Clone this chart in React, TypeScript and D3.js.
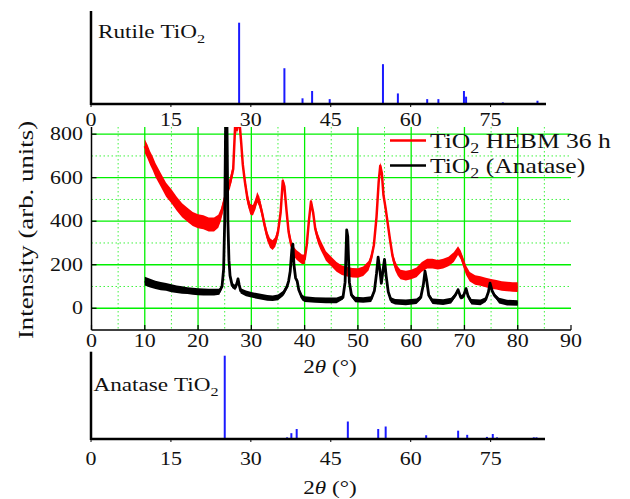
import React from "react";
import * as d3 from "d3";

const W = 630;
const H = 499;
const FONT = "'Liberation Serif', 'Times New Roman', serif";
const SX = 1.22;

// Main panel: [2θ, intensity, noise half-width]
const redSeries: [number, number, number][] = [
  [10, 745, 32], [10.5, 720, 32], [11, 690, 32], [11.5, 665, 32], [12, 635, 32],
  [13, 590, 32], [14, 545, 32], [15, 515, 32], [16, 480, 32], [17, 450, 32],
  [18, 430, 32], [19, 410, 32], [20, 400, 32], [21, 395, 32], [22, 385, 32],
  [23, 385, 32], [23.8, 400, 30], [24.3, 430, 28], [24.8, 480, 26], [25.3, 530, 25],
  [26, 575, 25], [26.6, 640, 24], [27.0, 860, 20], [27.3, 820, 20], [27.7, 880, 20],
  [28.1, 760, 20], [28.4, 660, 22], [28.8, 580, 24], [29.3, 500, 24], [29.8, 455, 24],
  [30.3, 450, 24], [30.8, 480, 24], [31.1, 510, 24], [31.5, 490, 24], [32, 440, 22],
  [32.5, 380, 22], [33, 330, 22], [33.5, 300, 22], [34, 290, 22], [34.5, 305, 22],
  [35, 350, 22], [35.5, 440, 18], [35.9, 585, 16], [36.2, 560, 16], [36.6, 450, 18],
  [37, 350, 22], [37.5, 290, 22], [38, 260, 22], [38.5, 245, 22], [39, 235, 22],
  [39.5, 225, 22], [40, 225, 22], [40.4, 290, 18], [40.8, 400, 16], [41.2, 490, 16],
  [41.6, 440, 16], [42, 365, 18], [42.5, 320, 22], [43, 290, 22], [43.5, 265, 22],
  [44, 240, 22], [45, 215, 22], [46, 190, 22], [47, 175, 22], [48, 168, 22],
  [49, 163, 22], [50, 162, 22], [51, 170, 22], [52, 195, 22], [52.5, 230, 20],
  [53, 290, 18], [53.5, 420, 16], [53.9, 580, 16], [54.2, 655, 16], [54.5, 620, 16],
  [54.8, 520, 16], [55.2, 460, 16], [55.6, 390, 16], [56, 320, 18], [56.5, 240, 20],
  [57, 195, 22], [57.5, 170, 22], [58, 155, 22], [59, 150, 22], [60, 155, 22],
  [61, 165, 22], [62, 190, 22], [63, 205, 22], [64, 205, 22], [65, 200, 22],
  [66, 205, 22], [67, 215, 22], [68, 235, 22], [68.8, 265, 20], [69.3, 245, 20],
  [69.8, 210, 22], [70.3, 175, 22], [71, 145, 22], [72, 130, 22], [73, 125, 22],
  [74, 118, 22], [75, 112, 22], [76, 108, 22], [77, 102, 22], [78, 100, 22],
  [79, 98, 22], [80, 97, 22],
];

const blackSeries: [number, number, number][] = [
  [10, 125, 20], [10.5, 120, 20], [11, 115, 20], [12, 107, 19], [13, 102, 19],
  [14, 98, 18], [15, 92, 18], [16, 87, 17], [17, 84, 17], [18, 81, 16],
  [19, 78, 16], [20, 76, 16], [21, 75, 16], [22, 74, 16], [23, 74, 16],
  [24, 76, 14], [24.5, 100, 9], [24.8, 180, 5], [25.0, 400, 3], [25.15, 800, 3],
  [25.3, 1100, 3], [25.45, 800, 3], [25.6, 400, 3], [25.8, 220, 5], [26.0, 150, 8],
  [26.4, 105, 12], [27.0, 95, 12], [27.3, 115, 9], [27.5, 135, 9], [27.7, 110, 9],
  [28.0, 80, 12], [29, 68, 13], [30, 62, 13], [31, 57, 13], [32, 52, 13],
  [33, 48, 13], [34, 46, 13], [35, 50, 13], [36, 68, 12], [36.7, 100, 11],
  [37.0, 125, 9], [37.3, 170, 6], [37.6, 270, 4], [37.8, 295, 4], [38.0, 200, 6],
  [38.3, 140, 8], [38.6, 125, 9], [38.9, 85, 10], [39.5, 50, 13], [40, 42, 13],
  [42, 38, 13], [44, 36, 13], [46, 36, 13], [47.2, 50, 10], [47.6, 120, 6],
  [47.9, 360, 3], [48.1, 330, 3], [48.4, 120, 6], [48.8, 60, 10], [49.5, 40, 13],
  [51, 38, 13], [52.5, 42, 13], [53.1, 80, 9], [53.5, 160, 6], [53.8, 235, 4],
  [54.1, 180, 6], [54.4, 115, 7], [54.7, 170, 6], [55.0, 225, 4], [55.3, 150, 6],
  [55.7, 75, 9], [56.2, 38, 13], [57, 30, 13], [59, 27, 13], [61, 32, 13],
  [61.8, 50, 10], [62.3, 110, 6], [62.6, 170, 4], [62.9, 130, 6], [63.3, 60, 10],
  [64, 32, 13], [66, 28, 13], [67.5, 35, 13], [68.3, 60, 10], [68.8, 85, 8],
  [69.3, 50, 10], [69.8, 55, 10], [70.3, 90, 8], [70.7, 55, 10], [71.3, 30, 13],
  [73, 27, 13], [74, 40, 11], [74.5, 75, 8], [74.8, 115, 6], [75.2, 80, 8],
  [75.6, 60, 10], [76, 50, 10], [76.5, 35, 13], [78, 26, 13], [80, 24, 13],
];

// Reference patterns: [2θ, relative intensity %]
const rutilePeaks: [number, number][] = [
  [27.8, 100], [36.3, 44], [39.7, 7], [41.5, 16], [44.8, 6], [54.8, 49],
  [57.6, 13], [63.1, 6], [65.2, 6], [70.0, 16], [70.4, 9], [77.3, 2], [83.8, 4],
];
const anatasePeaks: [number, number][] = [
  [25.1, 100], [36.8, 2], [37.6, 7], [38.6, 12], [48.2, 21], [53.9, 12],
  [55.3, 15], [62.9, 4.5], [68.9, 10], [70.6, 5], [74.3, 2.5], [75.4, 6],
  [76.2, 2], [83.1, 2], [83.6, 2],
];

const mainXTicks = [0, 10, 20, 30, 40, 50, 60, 70, 80, 90];
const mainYTicks = [0, 200, 400, 600, 800];
const majorXGrid = [10, 20, 30, 40, 50, 60, 70, 80];
const minorXGrid = [5, 15, 25, 35, 45, 55, 65, 75, 85];
const majorYGrid = [0, 200, 400, 600, 800];
const minorYGrid = [100, 300, 500, 700];
const refTicks = [0, 15, 30, 45, 60, 75];
const legendItems = [
  { label: " HEBM 36 h", color: "#ff0000" },
  { label: " (Anatase)", color: "#000000" },
];

const xMain = d3.scaleLinear().domain([0, 90]).range([91.5, 571]);
const yMain = d3.scaleLinear().domain([-100, 833]).range([330, 127]);
const xRut = d3.scaleLinear().domain([0, 85.4]).range([91, 546]);
const yRut = d3.scaleLinear().domain([0, 100]).range([104, 22.7]);
const xAna = d3.scaleLinear().domain([0, 85.2]).range([91, 545]);
const yAna = d3.scaleLinear().domain([0, 100]).range([439, 355.7]);

function T(props: {
  x: number; y: number; size: number; anchor?: string; rot?: number; children: any;
}) {
  const { x, y, size, anchor = "start", rot = 0, children } = props;
  return (
    <text
      transform={`translate(${x},${y}) rotate(${rot}) scale(${SX},1)`}
      fontSize={size}
      textAnchor={anchor}
      fontFamily={FONT}
      fill="#111"
    >
      {children}
    </text>
  );
}

function TiO2(size: number, rest: string) {
  const d = size * 0.24;
  return [
    <tspan key="a">TiO</tspan>,
    <tspan key="b" dy={d} fontSize={size * 0.7}>2</tspan>,
    <tspan key="c" dy={-d}>{rest}</tspan>,
  ];
}

function TwoTheta() {
  return [
    <tspan key="a">2</tspan>,
    <tspan key="b" fontStyle="italic">θ</tspan>,
    <tspan key="c"> (°)</tspan>,
  ];
}

export default function App() {
  const lineGen = d3
    .line<[number, number, number]>()
    .x((d) => xMain(d[0]))
    .y((d) => yMain(d[1]));
  const areaGen = d3
    .area<[number, number, number]>()
    .x((d) => xMain(d[0]))
    .y0((d) => yMain(d[1] - d[2]))
    .y1((d) => yMain(d[1] + d[2]));

  const green = "#00f000";
  const x0 = xMain(0), x1 = xMain(90);
  const yTop = yMain(833), yBot = yMain(-100);

  return (
    <svg
      width={W}
      height={H}
      style={{ position: "absolute", left: 0, top: 0, background: "#fff" }}
    >
      <defs>
        <clipPath id="plotclip">
          <rect x={x0} y={yTop} width={x1 - x0} height={yBot - yTop} />
        </clipPath>
      </defs>
      <rect x={0} y={0} width={W} height={H} fill="#fff" />

      {/* ---------- Rutile reference panel ---------- */}
      {rutilePeaks.map(([p, v], i) => (
        <line key={"r" + i} x1={xRut(p)} x2={xRut(p)} y1={yRut(0)} y2={yRut(v)}
          stroke="#1a1aff" strokeWidth={2} />
      ))}
      <line x1={xRut(0)} x2={xRut(0)} y1={11} y2={yRut(0) + 1} stroke="#000" strokeWidth={2.5} />
      <line x1={xRut(0)} x2={xRut(85.4)} y1={yRut(0)} y2={yRut(0)} stroke="#000" strokeWidth={2.5} />
      {refTicks.map((t) => (
        <line key={"rt" + t} x1={xRut(t)} x2={xRut(t)} y1={yRut(0)} y2={yRut(0) + 3} stroke="#000" strokeWidth={1} />
      ))}
      {refTicks.map((t) => (
        <T key={"rl" + t} x={xRut(t)} y={126} size={18} anchor="middle">{t}</T>
      ))}
      <T x={98} y={38} size={19}>{[<tspan key="r">Rutile </tspan>, ...TiO2(19, "")]}</T>

      {/* ---------- Main panel ---------- */}
      {minorXGrid.map((g) => (
        <line key={"mx" + g} x1={xMain(g)} x2={xMain(g)} y1={yTop} y2={yBot}
          stroke={green} strokeWidth={1} strokeDasharray="1.5 2.5" opacity={0.75} />
      ))}
      {minorYGrid.map((g) => (
        <line key={"my" + g} x1={x0} x2={x1} y1={yMain(g)} y2={yMain(g)}
          stroke={green} strokeWidth={1} strokeDasharray="1.5 2.5" opacity={0.75} />
      ))}
      {majorXGrid.map((g) => (
        <line key={"Mx" + g} x1={xMain(g)} x2={xMain(g)} y1={yTop} y2={yBot}
          stroke={green} strokeWidth={1.3} />
      ))}
      {majorYGrid.map((g) => (
        <line key={"My" + g} x1={x0} x2={x1} y1={yMain(g)} y2={yMain(g)}
          stroke={green} strokeWidth={1.3} />
      ))}

      <g clipPath="url(#plotclip)">
        <path d={areaGen(redSeries) || ""} fill="#ff0000" />
        <path d={lineGen(redSeries) || ""} fill="none" stroke="#ff0000" strokeWidth={2.5} strokeLinejoin="round" />
        <path d={areaGen(blackSeries) || ""} fill="#000" />
        <path d={lineGen(blackSeries) || ""} fill="none" stroke="#000" strokeWidth={2.8} strokeLinejoin="round" />
      </g>

      {/* axes */}
      <line x1={x0} x2={x0} y1={yTop} y2={yBot} stroke="#000" strokeWidth={1.5} />
      <line x1={x0} x2={x1} y1={yBot} y2={yBot} stroke="#000" strokeWidth={1.5} />
      {mainYTicks.map((t) => (
        <line key={"yt" + t} x1={x0} x2={x0 + 5} y1={yMain(t)} y2={yMain(t)} stroke="#000" strokeWidth={1.2} />
      ))}
      {mainXTicks.map((t) => (
        <line key={"xt" + t} x1={xMain(t)} x2={xMain(t)} y1={yBot} y2={yBot - 5} stroke="#000" strokeWidth={1.2} />
      ))}
      {mainYTicks.map((t) => (
        <T key={"yl" + t} x={83} y={yMain(t) + 6} size={18} anchor="end">{t}</T>
      ))}
      {mainXTicks.map((t) => (
        <T key={"xl" + t} x={xMain(t)} y={347} size={18} anchor="middle">{t}</T>
      ))}
      <T x={330} y={373} size={19} anchor="middle">{TwoTheta()}</T>
      <T x={33} y={230} size={22} anchor="middle" rot={-90}>Intensity (arb. units)</T>

      {/* legend */}
      {legendItems.map((it, i) => (
        <g key={"lg" + i}>
          <line x1={390} x2={426} y1={140.5 + i * 25} y2={140.5 + i * 25} stroke={it.color} strokeWidth={2.5} />
          <T x={430} y={147.5 + i * 25.5} size={21}>{TiO2(21, it.label)}</T>
        </g>
      ))}

      {/* ---------- Anatase reference panel ---------- */}
      {anatasePeaks.map(([p, v], i) => (
        <line key={"a" + i} x1={xAna(p)} x2={xAna(p)} y1={yAna(0)} y2={yAna(v)}
          stroke="#1a1aff" strokeWidth={2} />
      ))}
      <line x1={xAna(0)} x2={xAna(0)} y1={351.7} y2={yAna(0) + 1} stroke="#000" strokeWidth={2.5} />
      <line x1={xAna(0)} x2={xAna(85.2)} y1={yAna(0)} y2={yAna(0)} stroke="#000" strokeWidth={2.5} />
      {refTicks.map((t) => (
        <line key={"at" + t} x1={xAna(t)} x2={xAna(t)} y1={yAna(0)} y2={yAna(0) + 3} stroke="#000" strokeWidth={1} />
      ))}
      {refTicks.map((t) => (
        <T key={"al" + t} x={xAna(t)} y={465} size={18} anchor="middle">{t}</T>
      ))}
      <T x={93.5} y={391} size={19}>{[<tspan key="n">Anatase </tspan>, ...TiO2(19, "")]}</T>
      <T x={330} y={494} size={19} anchor="middle">{TwoTheta()}</T>
    </svg>
  );
}
